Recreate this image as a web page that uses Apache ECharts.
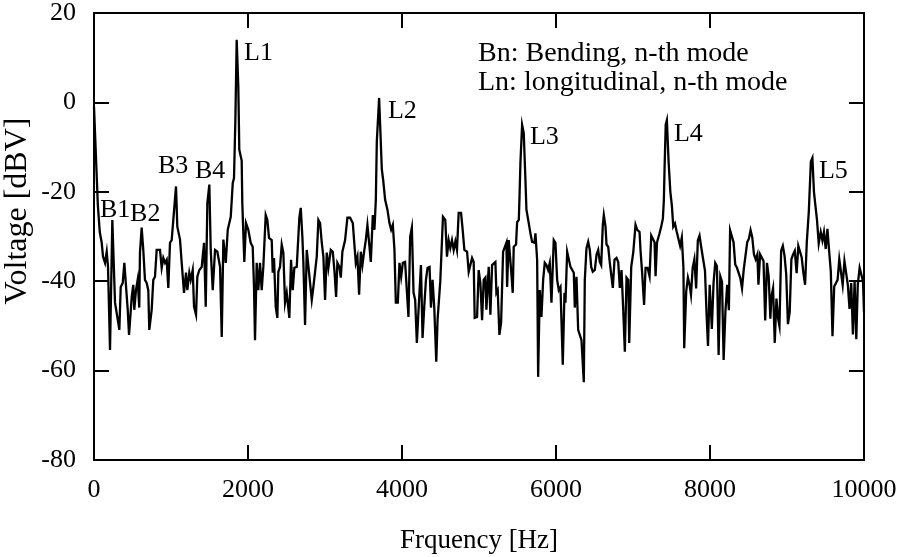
<!DOCTYPE html>
<html>
<head>
<meta charset="utf-8">
<script src="https://cdn.jsdelivr.net/npm/echarts@6/dist/echarts.min.js"></script>
<style>
  html, body { margin: 0; padding: 0; background: #fff; }
  #chart { width: 898px; height: 557px; }
</style>
</head>
<body>
<div id="chart"></div>
<script>
// spectrum: frequency [Hz] and voltage [dBV]
const freq = [
  0, 25, 50, 75, 100, 117, 143, 165, 182, 208, 238, 273, 303, 329, 347, 373, 394, 416, 438, 455,
  477, 490, 510, 523, 545, 567, 588, 597, 619, 640, 662, 684, 705, 718, 749, 770, 792, 814, 857, 879,
  900, 922, 944, 965, 987, 1009, 1030, 1065, 1082, 1117, 1139, 1169, 1195, 1212, 1238, 1256, 1282, 1299, 1325, 1342,
  1368, 1399, 1429, 1451, 1472, 1498, 1516, 1542, 1572, 1602, 1637, 1659, 1680, 1711, 1737, 1776, 1802, 1818, 1836, 1853,
  1874, 1887, 1918, 1926, 1952, 1974, 2004, 2035, 2061, 2078, 2091, 2113, 2134, 2156, 2178, 2199, 2230, 2251, 2273, 2308,
  2321, 2338, 2360, 2381, 2394, 2416, 2438, 2459, 2481, 2503, 2537, 2559, 2581, 2602, 2633, 2654, 2667, 2685, 2706, 2719,
  2741, 2763, 2793, 2828, 2849, 2871, 2893, 2914, 2936, 2958, 2979, 3001, 3023, 3044, 3075, 3101, 3122, 3144, 3161, 3187,
  3205, 3226, 3261, 3291, 3326, 3361, 3382, 3400, 3421, 3443, 3465, 3486, 3508, 3530, 3551, 3573, 3595, 3621, 3642, 3660,
  3673, 3703, 3725, 3738, 3755, 3781, 3811, 3837, 3859, 3881, 3902, 3920, 3946, 3967, 3989, 4011, 4040, 4063, 4084, 4106,
  4128, 4150, 4171, 4193, 4215, 4246, 4267, 4289, 4311, 4332, 4358, 4376, 4397, 4419, 4445, 4462, 4497, 4532, 4562, 4584,
  4606, 4627, 4649, 4671, 4693, 4714, 4736, 4767, 4788, 4810, 4845, 4866, 4888, 4910, 4931, 4944, 4975, 4996, 5018, 5040,
  5061, 5083, 5096, 5126, 5148, 5170, 5191, 5213, 5226, 5243, 5265, 5287, 5313, 5334, 5356, 5365, 5386, 5417, 5438, 5451,
  5481, 5495, 5517, 5525, 5538, 5560, 5581, 5603, 5616, 5646, 5668, 5690, 5720, 5733, 5755, 5768, 5789, 5811, 5833, 5854,
  5876, 5898, 5919, 5941, 5971, 5993, 6015, 6036, 6058, 6088, 6110, 6123, 6145, 6166, 6188, 6210, 6231, 6244, 6266, 6288,
  6309, 6331, 6361, 6374, 6396, 6418, 6439, 6457, 6478, 6504, 6526, 6548, 6569, 6587, 6608, 6621, 6643, 6656, 6678, 6699,
  6721, 6738, 6760, 6786, 6808, 6829, 6851, 6873, 6894, 6916, 6938, 6951, 6977, 7003, 7033, 7055, 7085, 7098, 7117, 7144,
  7163, 7189, 7215, 7237, 7259, 7280, 7293, 7312, 7343, 7365, 7388, 7401, 7410, 7425, 7440, 7462, 7485, 7505, 7523, 7545,
  7567, 7589, 7612, 7634, 7655, 7665, 7691, 7713, 7735, 7753, 7775, 7797, 7820, 7842, 7864, 7886, 7908, 7935, 7957, 7974,
  7996, 8024, 8046, 8068, 8090, 8112, 8134, 8156, 8177, 8200, 8223, 8245, 8261, 8284, 8306, 8328, 8350, 8372, 8394, 8416,
  8438, 8460, 8483, 8505, 8527, 8549, 8571, 8593, 8615, 8629, 8651, 8673, 8695, 8717, 8740, 8762, 8784, 8797, 8819, 8841,
  8863, 8885, 8902, 8924, 8946, 8968, 8990, 9012, 9035, 9057, 9079, 9101, 9125, 9147, 9169, 9191, 9213, 9235, 9257, 9270,
  9283, 9310, 9330, 9350, 9362, 9390, 9412, 9438, 9460, 9480, 9503, 9525, 9547, 9569, 9591, 9613, 9635, 9657, 9679, 9698,
  9723, 9746, 9768, 9790, 9812, 9834, 9856, 9878, 9900, 9919, 9943, 9965, 9987, 10000
];
const volt = [
  -1, -12, -23, -29, -31.4, -34.5, -35.9, -33.4, -36.8, -55.4, -26.3, -44.8, -48, -50.9, -41.3, -40.4, -35.9, -35.9, -46.4, -52,
  -52, -43.5, -40.8, -46.4, -42, -39.7, -45.9, -33.6, -28, -33, -39.7, -40.4, -42, -50.9, -46.4, -39.7, -39, -33, -33, -37,
  -34.8, -35.9, -35.2, -41.5, -31.4, -30.8, -26.3, -18.8, -27.8, -30.7, -35.9, -42.6, -38.1, -42, -38.1, -39.7, -37.5, -45.7, -47.5, -39,
  -37.5, -36.8, -31.4, -45.7, -22.5, -18.4, -33, -42, -33, -33.4, -36.8, -52.5, -30.7, -35.9, -28.5, -25.6, -18, -17, -4, 14,
  3.6, -10.6, -13, -22.5, -35.7, -27, -28.5, -31.4, -32.3, -41.3, -53.2, -35.9, -42, -35.9, -42, -36.8, -25.2, -26.3, -30.3, -30.8,
  -38.1, -34.8, -45.7, -48.2, -37.9, -36.8, -31.8, -33.6, -44.8, -42.6, -48.2, -35.2, -42, -37, -36.8, -36.8, -25.8, -23.6, -30, -35.7,
  -49.8, -33, -38.1, -44.2, -41.3, -37.9, -34.5, -26.3, -27, -31.4, -34.5, -44.2, -33.6, -37, -33, -33.4, -37.5, -43.5, -35.9, -36.8,
  -39.2, -33.4, -30.8, -25.8, -25.8, -27, -31.8, -35.9, -34.5, -43, -33.4, -36.4, -33.4, -30.8, -27.4, -31.4, -35.7, -25.2, -28.5, -21.8,
  -8.7, 1.0, 0.6, -15, -17.3, -21.8, -24, -27, -28.5, -27.4, -33, -44.8, -44.8, -35.9, -39, -35.9, -35.7, -35.9, -48, -30,
  -28, -42.6, -44.2, -53.8, -46.4, -36.4, -52.7, -45.7, -39.7, -37, -36.8, -45.9, -39.7, -45.9, -58, -48.6, -40.1, -25.6, -26.3, -34.5,
  -30.8, -32.6, -30.8, -33, -31.1, -33, -24.7, -24.7, -28.5, -33, -33.4, -37.9, -37.9, -34.8, -35.7, -48.2, -48, -37.5, -40.4, -48.7,
  -39.7, -39.2, -46.4, -36.8, -47.5, -36.4, -36, -35.7, -42.6, -42, -52, -49.3, -33.4, -33, -31.4, -41.3, -30.8, -37.5, -42.6, -32.3,
  -31.8, -26.8, -26.3, -21.8, -13.5, -5, -6.8, -17.3, -24, -27, -29.3, -31.2, -31.4, -29.3, -35.2, -61.4, -42, -48, -39.7, -35.9,
  -36.4, -37.5, -35.9, -44.8, -30.8, -31.4, -39.7, -42, -41.3, -58.7, -42.6, -44.8, -33.4, -33.6, -36.8, -36.8, -38.1, -45.9, -39, -50.9,
  -50.9, -53.2, -62.6, -39.7, -32.6, -31.2, -33, -36.8, -37.9, -37.5, -34.1, -33, -35.7, -36.4, -27.4, -25.2, -27.8, -31.8, -32.3, -35.9,
  -35.9, -41.5, -35.2, -34.8, -35.7, -41.5, -37.5, -46.4, -55.8, -39.2, -39.7, -53.8, -36.8, -33.6, -27.4, -28.5, -29, -33.2, -37.7, -45.3,
  -37, -37, -38.9, -29.8, -29.4, -31.3, -38.9, -31.3, -29.4, -27.9, -26, -21.8, -14.7, -5, -4, -13.2, -20, -23.1, -27.8, -27.1,
  -28.9, -28.6, -32.1, -30.2, -37, -55, -42.3, -39.2, -40.8, -43, -37, -35.1, -41.6, -30.9, -29.8, -32.4, -32.4, -37.7, -48, -54.5,
  -40.8, -50.7, -40.4, -35.9, -36.6, -56.5, -38.9, -40.1, -57.6, -46.9, -40.8, -46.5, -28.6, -28.6, -31.3, -36.3, -37, -37, -39.3, -41.6,
  -37.4, -37, -31.3, -30.5, -28.6, -30.2, -34, -35.1, -34, -40.8, -34, -33.6, -35.5, -48.8, -35.9, -38.9, -48.4, -43.5, -41.6, -53.8,
  -43.9, -48.4, -50, -33.2, -32.1, -34.3, -38.5, -49.6, -46.9, -35.1, -34, -33.2, -38.2, -32.1, -32.4, -34.7, -38.2, -40.8, -31.3, -31.7,
  -24.5, -13.2, -12.4, -20, -22, -26.4, -31.6, -29, -30.9, -29, -32.8, -28.3, -33.2, -37.8, -52.3, -41.2, -41.6, -39.7, -35.1, -35.5,
  -40.8, -35.5, -35.9, -40.8, -46.2, -40.4, -51.9, -40, -53, -40.8, -37, -36.6, -40, -47
];

// mode labels, placed at [Hz, dBV] of the text's left edge
const peakNames = ['B1', 'B2', 'B3', 'B4', 'L1', 'L2', 'L3', 'L4', 'L5'];
const peakFreq  = [78, 468, 831, 1312, 1948, 3818, 5662, 7532, 9415];
const peakVolt  = [-24.0, -24.9, -14.2, -15.3, 11.1, -1.9, -7.7, -7.0, -15.3];

const keyLines = ['Bn: Bending, n-th mode', 'Ln: longitudinal, n-th mode'];

const xTicks = { min: 0, max: 10000, interval: 2000 };
const yTicks = { min: -80, max: 20, interval: 20 };

const FONT = '"Liberation Serif", "Times New Roman", serif';

const chart = echarts.init(document.getElementById('chart'));

const axisLine = { onZero: false, lineStyle: { color: '#000', width: 2 } };
const axisTick = { inside: true, length: 15, lineStyle: { color: '#000', width: 2 } };
const tickLabel = { fontFamily: FONT, fontSize: 26, color: '#000', formatter: v => String(v) };

chart.setOption({
  animation: false,
  backgroundColor: '#fff',
  grid: { left: 94, right: 34, top: 13, bottom: 97, containLabel: false, outerBoundsMode: 'none' },
  xAxis: [
    {
      type: 'value', position: 'bottom', ...xTicks,
      axisLine, axisTick, splitLine: { show: false },
      axisLabel: { ...tickLabel, margin: 17 },
      name: 'Frquency [Hz]', nameLocation: 'middle', nameGap: 67,
      nameTextStyle: { fontFamily: FONT, fontSize: 27, color: '#000' },
    },
    {
      type: 'value', position: 'top', ...xTicks,
      axisLine, axisTick, splitLine: { show: false }, axisLabel: { show: false },
    },
  ],
  yAxis: [
    {
      type: 'value', position: 'left', ...yTicks,
      axisLine, axisTick, splitLine: { show: false },
      axisLabel: { ...tickLabel, margin: 18 },
    },
    {
      type: 'value', position: 'right', ...yTicks,
      axisLine, axisTick, splitLine: { show: false }, axisLabel: { show: false },
    },
  ],
  graphic: [
    ...keyLines.map((t, i) => ({
      type: 'text', left: 478, top: 40 + i * 29,
      style: { text: t, font: '28px ' + FONT, fill: '#000' },
    })),
    // y axis title, set by hand a bit above the plot's middle as in the original
    {
      type: 'text', x: 18, y: 211, rotation: Math.PI / 2,
      style: {
        text: 'Voltage [dBV]', font: '32px ' + FONT, fill: '#000',
        align: 'center', verticalAlign: 'middle',
      },
    },
  ],
  series: [
    {
      type: 'line',
      data: freq.map((f, i) => [f, volt[i]]),
      showSymbol: false,
      lineStyle: { color: '#000', width: 2.3, join: 'miter' },
      silent: true,
    },
    {
      type: 'scatter',
      data: peakNames.map((n, i) => [peakFreq[i], peakVolt[i], n]),
      symbolSize: 0,
      silent: true,
      itemStyle: { opacity: 1 },
      label: {
        show: true, position: 'right', distance: 0, opacity: 1,
        formatter: p => p.data[2],
        fontFamily: FONT, fontSize: 26, color: '#000',
      },
    },
  ],
});
</script>
</body>
</html>
